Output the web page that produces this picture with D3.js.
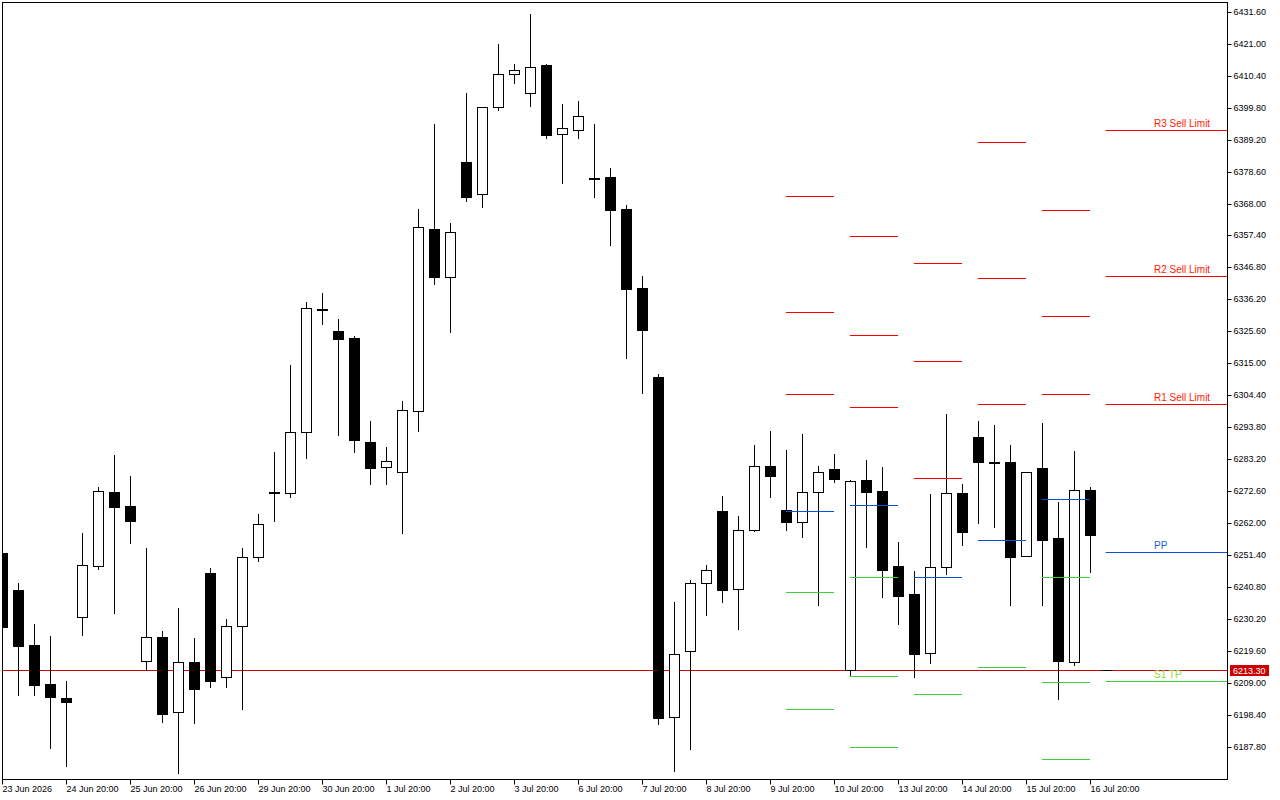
<!DOCTYPE html>
<html>
<head>
<meta charset="utf-8">
<script src="https://cdn.jsdelivr.net/npm/d3@7"></script>
<style>
  html, body { margin: 0; padding: 0; background: #ffffff; }
  svg { display: block; }
  text { font-family: "Liberation Sans", Arial, sans-serif; }
</style>
</head>
<body>
<svg id="chart" width="1280" height="800"></svg>
<script>
// ---------- DATA ----------
const opens  = [6252.3,6240.0,6221.8,6208.8,6204.2,6230.9,6248.1,6272.4,6267.8,6216.3,6224.4,6199.4,6216.0,6245.6,6211.0,6228.0,6250.8,6272.4,6272.1,6292.4,6333.1,6325.9,6323.6,6289.1,6280.7,6279.0,6299.5,6359.7,6343.7,6381.9,6371.2,6400.1,6411.0,6404.7,6414.1,6391.1,6392.5,6376.7,6376.9,6366.3,6340.2,6310.6,6197.8,6219.7,6242.2,6266.1,6240.2,6259.8,6281.0,6266.4,6262.6,6272.4,6280.1,6213.4,6276.5,6272.8,6248.0,6238.7,6219.0,6247.5,6272.1,6290.7,6282.6,6282.3,6251.2,6280.5,6257.2,6216.2,6273.2];
const highs  = [6254.5,6242.2,6228.7,6224.7,6209.8,6258.9,6274.2,6284.8,6277.8,6253.9,6226.4,6234.0,6224.1,6247.3,6230.4,6253.9,6265.2,6285.8,6314.6,6335.5,6338.5,6329.9,6324.2,6296.0,6287.4,6302.7,6366.4,6394.6,6361.7,6404.8,6400.1,6421.1,6414.5,6431.0,6414.3,6401.1,6402.2,6394.6,6379.9,6367.6,6344.1,6311.6,6235.9,6243.2,6248.3,6271.2,6264.5,6288.1,6292.7,6286.4,6291.7,6281.1,6285.1,6276.5,6283.1,6280.8,6255.9,6246.3,6271.8,6298.4,6275.2,6296.0,6294.7,6288.1,6279.2,6295.4,6269.2,6286.1,6274.2];
const lows   = [6226.0,6205.2,6205.2,6187.7,6181.7,6225.2,6247.1,6232.5,6255.7,6213.5,6196.3,6179.2,6196.0,6207.9,6207.9,6200.6,6249.7,6263.0,6270.9,6283.8,6328.3,6291.5,6285.9,6275.2,6275.2,6258.9,6292.8,6341.6,6325.7,6369.1,6367.1,6399.3,6408.3,6400.6,6390.0,6375.1,6390.0,6370.4,6354.5,6317.0,6305.4,6195.7,6180.1,6187.4,6231.7,6236.1,6227.2,6259.6,6270.9,6260.0,6257.7,6235.1,6275.9,6211.6,6254.4,6237.8,6228.8,6211.2,6215.9,6245.4,6255.0,6262.3,6261.0,6235.1,6251.1,6235.1,6203.9,6215.2,6246.0];
const closes = [6227.7,6221.5,6208.5,6204.6,6203.0,6248.2,6272.7,6267.6,6263.0,6224.3,6199.0,6216.0,6207.3,6209.9,6228.0,6250.8,6261.8,6272.2,6292.4,6333.5,6332.9,6323.3,6289.8,6280.6,6282.7,6299.6,6360.3,6343.7,6358.6,6370.4,6400.1,6411.0,6412.4,6413.4,6391.0,6393.1,6397.1,6376.5,6366.1,6339.9,6326.3,6197.6,6218.7,6242.2,6246.5,6240.1,6259.8,6281.0,6277.9,6262.6,6272.4,6279.0,6276.9,6276.1,6272.6,6246.7,6238.1,6218.9,6247.5,6272.1,6259.3,6282.5,6282.4,6251.0,6279.1,6256.7,6216.6,6273.2,6258.3];

const timeLabels = ["23 Jun 2026","24 Jun 20:00","25 Jun 20:00","26 Jun 20:00","29 Jun 20:00","30 Jun 20:00","1 Jul 20:00","2 Jul 20:00","3 Jul 20:00","6 Jul 20:00","7 Jul 20:00","8 Jul 20:00","9 Jul 20:00","10 Jul 20:00","13 Jul 20:00","14 Jul 20:00","15 Jul 20:00","16 Jul 20:00"];
const barsPerLabel = 4;

const priceTicks = [6187.8,6198.4,6209.0,6219.6,6230.2,6240.8,6251.4,6262.0,6272.6,6283.2,6293.8,6304.4,6315.0,6325.6,6336.2,6346.8,6357.4,6368.0,6378.6,6389.2,6399.8,6410.4,6421.0,6431.6];

// daily pivot segments (first bar, last bar)
const segStart = [49, 53, 57, 61, 65];
const segEnd   = [52, 56, 60, 64, 68];
const segR3 = [6370.6, 6357.3, 6348.4, 6388.5, 6365.7];
const segR2 = [6331.9, 6324.5, 6315.9, 6343.4, 6330.8];
const segR1 = [6304.9, 6300.6, 6277.0, 6301.6, 6304.9];
const segPP = [6266.1, 6268.1, 6244.2, 6256.5, 6270.1];
const segS1 = [6239.2, 6244.2, 6205.4, 6214.4, 6244.2];
const segS2 = [6200.4, 6211.4, 6172.6, 6170.0, 6209.4];
const segS3 = [6173.4, 6187.8, 6140.0, 6130.0, 6183.8];

// current levels (right side)
const curNames  = ["R3 Sell Limit", "R2 Sell Limit", "R1 Sell Limit", "PP", "S1 TP"];
const curValues = [6392.5, 6343.8, 6301.4, 6252.5, 6209.8];
const curKinds  = ["r", "r", "r", "p", "s"];

const lastPrice = 6213.3;

// ---------- LAYOUT ----------
const svg = d3.select("#chart");
const L = 2, T = 2, R = 1227, B = 779;
const font = '"Liberation Sans", Arial, sans-serif';

const x = d3.scaleLinear().domain([0, 68]).range([2.5, 1090.5]);
const y = d3.scaleLinear().domain([6177.3, 6435.0]).range([B, T]);
const crisp = v => Math.floor(v) + 0.5;

const colors = { r: "#ff0000", p: "#0a50d8", s: "#3ccf3c" };
const textColors = { r: "#ff1a00", p: "#2060d8", s: "#8ed63e" };

svg.append("rect").attr("width", 1280).attr("height", 800).attr("fill", "#fff");

svg.append("clipPath").attr("id", "plot")
  .append("rect").attr("x", L + 0.5).attr("y", T + 0.5).attr("width", R - L - 0.5).attr("height", B - T - 0.5);

const plot = svg.append("g").attr("clip-path", "url(#plot)");

// last price line (behind candles)
plot.append("line")
  .attr("x1", L).attr("x2", R)
  .attr("y1", crisp(y(lastPrice))).attr("y2", crisp(y(lastPrice)))
  .attr("stroke", "#d00000").attr("stroke-width", 1);

// candles
const bars = d3.range(opens.length).map(i => ({ i, o: opens[i], h: highs[i], l: lows[i], c: closes[i] }));
const cg = plot.append("g");
bars.forEach(d => {
  const cx = Math.floor(x(d.i)) + 0.5;
  cg.append("line")
    .attr("x1", cx).attr("x2", cx)
    .attr("y1", Math.round(y(d.h))).attr("y2", Math.round(y(d.l)) + 1)
    .attr("stroke", "#000").attr("stroke-width", 1);
  const top = Math.round(y(Math.max(d.o, d.c)));
  const bot = Math.round(y(Math.min(d.o, d.c)));
  const bear = d.c < d.o;
  if (bear || bot - top < 2) {
    const hgt = Math.max(2, bot - top + 1);
    cg.append("rect")
      .attr("x", cx - 5.5).attr("y", top).attr("width", 11).attr("height", hgt)
      .attr("fill", "#000");
  } else {
    cg.append("rect")
      .attr("x", cx - 5).attr("y", top + 0.5).attr("width", 10).attr("height", bot - top)
      .attr("fill", "#fff").attr("stroke", "#000").attr("stroke-width", 1);
  }
});

// pivot segments
const lg = plot.append("g");
const segLevels = [
  [segR3, "r"], [segR2, "r"], [segR1, "r"], [segPP, "p"], [segS1, "s"], [segS2, "s"], [segS3, "s"]
];
segStart.forEach((s, k) => {
  segLevels.forEach(([arr, kind]) => {
    const yy = crisp(y(arr[k]));
    lg.append("line")
      .attr("x1", x(s) - 0.5).attr("x2", x(segEnd[k]) - 0.5)
      .attr("y1", yy).attr("y2", yy)
      .attr("stroke", colors[kind]).attr("stroke-width", 1);
  });
});

// current levels on the right
curValues.forEach((v, k) => {
  const yy = crisp(y(v));
  lg.append("line")
    .attr("x1", x(68.95)).attr("x2", R)
    .attr("y1", yy).attr("y2", yy)
    .attr("stroke", colors[curKinds[k]]).attr("stroke-width", 1);
  svg.append("text")
    .attr("x", 1154).attr("y", yy - 3.5)
    .attr("font-size", "10px").attr("font-family", font)
    .attr("fill", textColors[curKinds[k]])
    .text(curNames[k]);
});

// small marker on price line
plot.append("line")
  .attr("x1", 1101).attr("x2", 1112)
  .attr("y1", crisp(y(lastPrice))).attr("y2", crisp(y(lastPrice)))
  .attr("stroke", "#000").attr("stroke-width", 1);

// frame
svg.append("rect")
  .attr("x", L + 0.5).attr("y", T + 0.5).attr("width", R - L).attr("height", B - T)
  .attr("fill", "none").attr("stroke", "#000").attr("stroke-width", 1);

// right price axis
const yAxis = d3.axisRight(y).tickValues(priceTicks).tickSize(4).tickPadding(2)
  .tickFormat(d3.format(".2f"));
const ya = svg.append("g").attr("transform", `translate(${R + 0.5},0)`).call(yAxis);
ya.select(".domain").remove();
ya.selectAll(".tick").attr("transform", d => `translate(0,${crisp(y(d))})`);
ya.selectAll("text").attr("font-size", "9px").attr("font-family", font).attr("fill", "#000");

// last price label
const ly = crisp(y(lastPrice));
svg.append("rect").attr("x", 1230).attr("y", ly - 5.5).attr("width", 39).attr("height", 11).attr("fill", "#cc0000");
svg.append("text").attr("x", 1233).attr("y", ly + 3.5)
  .attr("font-size", "9px").attr("font-family", font).attr("fill", "#fff")
  .text(d3.format(".2f")(lastPrice));

// bottom time axis
const labelIdx = timeLabels.map((_, k) => k * barsPerLabel);
const xAxis = d3.axisBottom(x).tickValues(labelIdx).tickSize(5)
  .tickFormat((d, k) => timeLabels[k]);
const xa = svg.append("g").attr("transform", `translate(0,${B + 0.5})`).call(xAxis);
xa.select(".domain").remove();
xa.selectAll(".tick").attr("transform", d => `translate(${Math.floor(x(d)) + 0.5},0)`);
xa.selectAll("text")
  .attr("font-size", "9px").attr("font-family", font).attr("fill", "#000")
  .attr("text-anchor", "start").attr("x", 0).attr("y", 6).attr("dy", "0.71em");
</script>
</body>
</html>
